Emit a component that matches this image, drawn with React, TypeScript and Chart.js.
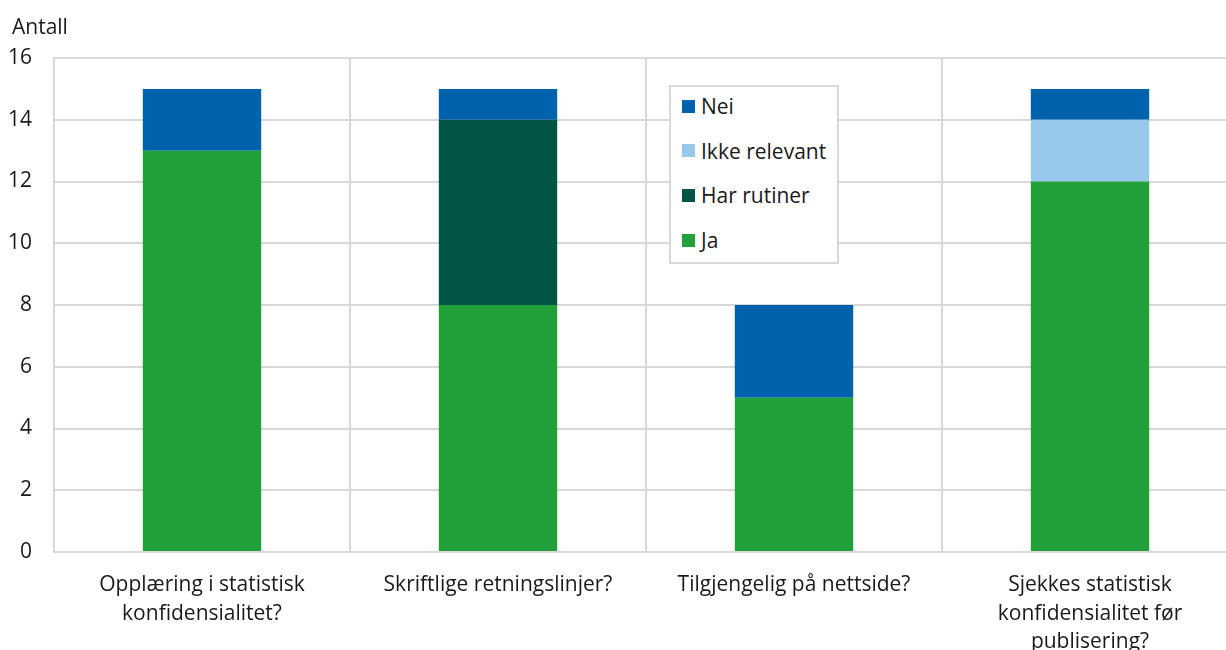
import React, { useEffect, useRef } from "react";
import { Chart, registerables } from "chart.js";

Chart.register(...registerables);

const categories: string[][] = [
  ["Opplæring i statistisk", "konfidensialitet?"],
  ["Skriftlige retningslinjer?"],
  ["Tilgjengelig på nettside?"],
  ["Sjekkes statistisk", "konfidensialitet før", "publisering?"],
];
const jaValues = [13, 8, 5, 12];
const rutinerValues = [0, 6, 0, 0];
const ikkeRelevantValues = [0, 0, 0, 2];
const neiValues = [2, 1, 3, 1];
const yTicks = [0, 2, 4, 6, 8, 10, 12, 14, 16];
const yAxisTitle = "Antall";

const COLORS = {
  ja: "#22a039",
  rutiner: "#005545",
  ikke: "#98c8ec",
  nei: "#0062ad",
};
const GRID = "#d9d9d9";
const TEXT = "#1a1a1a";
const FONT = "'Open Sans', 'Noto Sans', sans-serif";
const FS = 21;

const legendItems = [
  { label: "Nei", color: COLORS.nei },
  { label: "Ikke relevant", color: COLORS.ikke },
  { label: "Har rutiner", color: COLORS.rutiner },
  { label: "Ja", color: COLORS.ja },
];

export default function App() {
  const ref = useRef<HTMLCanvasElement | null>(null);

  useEffect(() => {
    document.body.style.margin = "0";
    document.body.style.overflow = "hidden";
    const canvas = ref.current;
    if (!canvas) return;

    const titlePlugin = {
      id: "antallTitle",
      afterDraw(chart: any) {
        const ctx = chart.ctx;
        ctx.save();
        ctx.font = `${FS}px ${FONT}`;
        ctx.fillStyle = TEXT;
        ctx.textBaseline = "alphabetic";
        ctx.textAlign = "left";
        ctx.fillText(yAxisTitle, 12, 34);
        ctx.restore();
      },
    };

    const chart = new Chart(canvas, {
      type: "bar",
      data: {
        labels: categories,
        datasets: [
          { label: "Ja", data: jaValues, backgroundColor: COLORS.ja },
          { label: "Har rutiner", data: rutinerValues, backgroundColor: COLORS.rutiner },
          { label: "Ikke relevant", data: ikkeRelevantValues, backgroundColor: COLORS.ikke },
          { label: "Nei", data: neiValues, backgroundColor: COLORS.nei },
        ],
      },
      options: {
        responsive: false,
        animation: false,
        devicePixelRatio: 1,
        layout: { padding: { top: 58, right: 2, left: 0, bottom: 0 } },
        datasets: {
          bar: { categoryPercentage: 1, barPercentage: 0.4 },
        },
        plugins: {
          legend: { display: false },
          tooltip: { enabled: false },
          title: { display: false },
        },
        scales: {
          x: {
            stacked: true,
            grid: {
              offset: true,
              color: GRID,
              lineWidth: 2,
              drawTicks: false,
            },
            border: { color: GRID, width: 2 },
            ticks: {
              color: TEXT,
              font: { family: FONT, size: FS, lineHeight: 1.36 },
              padding: 19,
              maxRotation: 0,
              autoSkip: false,
            },
            afterFit(scale: any) {
              scale.height = 680 - 552;
            },
          },
          y: {
            stacked: true,
            min: 0,
            max: 16,
            afterBuildTicks(scale: any) {
              scale.ticks = yTicks.map((v) => ({ value: v }));
            },
            grid: { color: GRID, lineWidth: 2, drawTicks: false },
            border: { color: GRID, width: 2 },
            ticks: {
              color: TEXT,
              font: { family: FONT, size: FS },
              padding: 22,
            },
            afterFit(scale: any) {
              scale.width = 54;
            },
          },
        },
      },
      plugins: [titlePlugin],
    } as any);

    return () => chart.destroy();
  }, []);

  return (
    <div
      style={{
        position: "relative",
        width: 1226,
        height: 650,
        overflow: "hidden",
        fontFamily: FONT,
      }}
    >
      <canvas
        ref={ref}
        width={1240}
        height={680}
        style={{ display: "block", width: 1240, height: 680 }}
      />
      <div
        style={{
          position: "absolute",
          left: 669,
          top: 85,
          width: 170,
          height: 179,
          boxSizing: "border-box",
          border: `2px solid ${GRID}`,
          background: "#ffffff",
        }}
      >
        {legendItems.map((item, i) => (
          <div
            key={item.label}
            style={{
              position: "absolute",
              left: 11,
              top: 4 + i * 44.7,
              height: 30,
              display: "flex",
              alignItems: "center",
              whiteSpace: "nowrap",
            }}
          >
            <span
              style={{
                display: "inline-block",
                width: 13,
                height: 13,
                background: item.color,
                marginRight: 6,
              }}
            />
            <span style={{ fontSize: FS, color: TEXT, lineHeight: "30px" }}>
              {item.label}
            </span>
          </div>
        ))}
      </div>
    </div>
  );
}
